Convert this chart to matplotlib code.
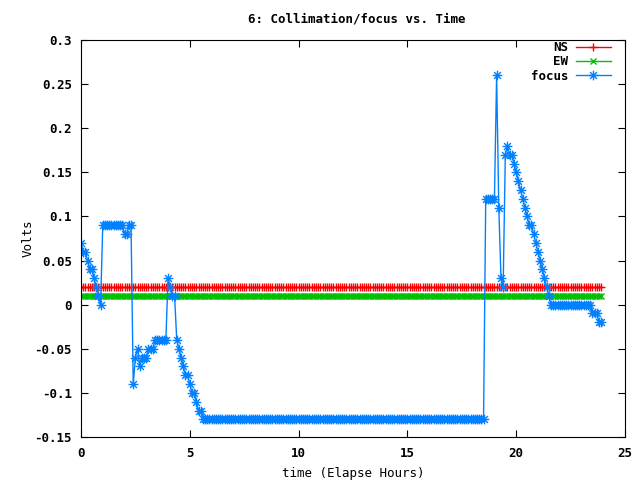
import numpy as np
import matplotlib
matplotlib.use("Agg")
import matplotlib.pyplot as plt
from matplotlib.path import Path
from matplotlib.ticker import MultipleLocator

# sample times (hours), one reading every 6 minutes
hours = np.round(np.arange(0, 23.95, 0.1), 2)
ns_volts = np.full(hours.shape, 0.02)
ew_volts = np.full(hours.shape, 0.01)

# focus readings as (value, number of consecutive samples)
focus_runs = [
    (0.07, 1), (0.06, 2), (0.05, 1), (0.04, 2), (0.03, 1), (0.02, 1), (0.01, 1), (0.0, 1),
    (0.09, 10), (0.08, 2), (0.09, 2), (-0.09, 1), (-0.06, 1), (-0.05, 1), (-0.07, 1),
    (-0.06, 3), (-0.05, 3), (-0.04, 6), (0.03, 1), (0.02, 1), (0.01, 2),
    (-0.04, 1), (-0.05, 1), (-0.06, 1), (-0.07, 1), (-0.08, 2), (-0.09, 1), (-0.10, 2),
    (-0.11, 1), (-0.12, 2), (-0.13, 130),
    (0.12, 5), (0.26, 1), (0.11, 1), (0.03, 1), (0.02, 1), (0.17, 1), (0.18, 1), (0.17, 2),
    (0.16, 1), (0.15, 1), (0.14, 1), (0.13, 1), (0.12, 1), (0.11, 1), (0.10, 1), (0.09, 2),
    (0.08, 1), (0.07, 1), (0.06, 1), (0.05, 1), (0.04, 1), (0.03, 1), (0.02, 1), (0.01, 1),
    (0.0, 19), (-0.01, 3), (-0.02, 2),
]
focus_vals = np.repeat([v for v, n in focus_runs], [n for v, n in focus_runs])
focus_hours = hours[:len(focus_vals)]

# gnuplot style asterisk marker (+ and x together)
star = Path([(-1, 0), (1, 0), (0, -1), (0, 1), (-.7, -.7), (.7, .7), (-.7, .7), (.7, -.7)],
            [Path.MOVETO, Path.LINETO] * 4)

plt.rcParams['font.family'] = ['DejaVu Sans Mono']
plt.rcParams['font.weight'] = 'bold'
plt.rcParams['font.size'] = 9

fig = plt.figure(figsize=(6.4, 4.8), dpi=100)
ax = fig.add_axes([81/640, 1-437/480, 544/640, 397/480])

ax.plot(hours, ns_volts, color='#ff0000', lw=1, marker='+', ms=6, mew=1, label='NS')
ax.plot(hours, ew_volts, color='#00c000', lw=1, marker='x', ms=5, mew=1, label='EW')
ax.plot(focus_hours, focus_vals, color='#0080ff', lw=1, marker=star, ms=7, mew=1,
        mfc='none', label='focus')

ax.set_xlim(0, 25)
ax.set_ylim(-0.15, 0.3)
ax.xaxis.set_major_locator(MultipleLocator(5))
ax.yaxis.set_major_locator(MultipleLocator(0.05))
ax.yaxis.set_major_formatter(plt.FuncFormatter(lambda v, p: '%g' % round(v, 2)))
ax.tick_params(axis='both', direction='in', top=True, right=True, length=5, width=0.8)
ax.tick_params(axis='y', pad=6.5)
ax.tick_params(axis='x', pad=7.5)
for s in ax.spines.values():
    s.set_linewidth(0.8)

ax.set_xlabel('time (Elapse Hours)', labelpad=5)
ax.set_ylabel('Volts', labelpad=0)
fig.text(0.558, 1-19/480, '6: Collimation/focus vs. Time', ha='center', va='center')

ax.legend(loc='upper right', bbox_to_anchor=(0.974, 0.997), frameon=False,
          markerfirst=False, handlelength=2.8, borderaxespad=0, borderpad=0,
          labelspacing=0.1, handletextpad=0.6)

fig.savefig('out.png', dpi=100)
